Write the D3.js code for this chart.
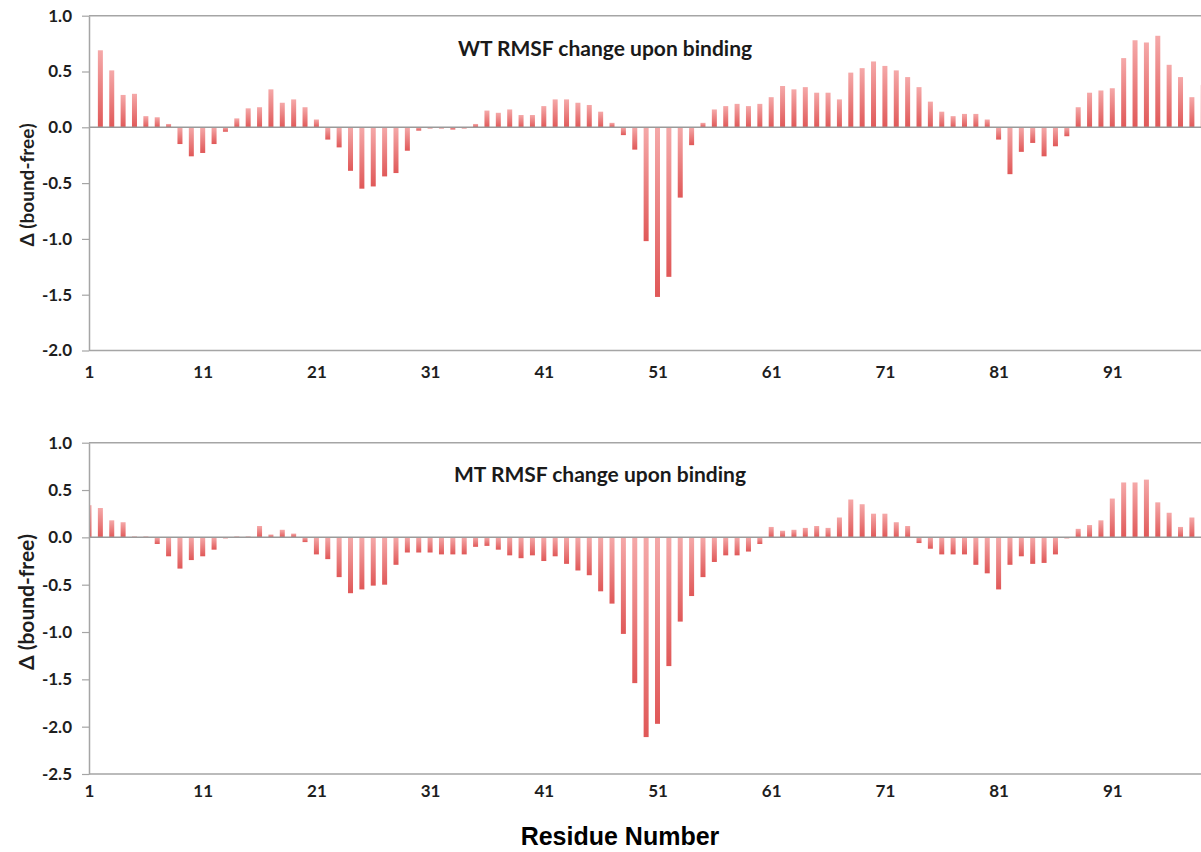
<!DOCTYPE html>
<html>
<head>
<meta charset="utf-8">
<script src="https://cdn.jsdelivr.net/npm/d3@7"></script>
<style>
  body { margin: 0; background: #fff; }
  svg { display: block; }
</style>
</head>
<body>
<script>
// residue numbers 1..99
var residues = d3.range(1, 100);

// WT: RMSF change (bound - free), residue 1 has no bar
var wtValues = [
  null, 0.69, 0.51, 0.29, 0.30, 0.10, 0.09, 0.03, -0.15, -0.26,
  -0.23, -0.15, -0.04, 0.08, 0.17, 0.18, 0.34, 0.22, 0.25, 0.18,
  0.07, -0.11, -0.18, -0.39, -0.55, -0.53, -0.44, -0.41, -0.21, -0.03,
  -0.01, -0.01, -0.02, -0.01, 0.03, 0.15, 0.13, 0.16, 0.11, 0.11,
  0.19, 0.25, 0.25, 0.22, 0.20, 0.14, 0.04, -0.07, -0.20, -1.02,
  -1.52, -1.34, -0.63, -0.16, 0.04, 0.16, 0.19, 0.21, 0.19, 0.21,
  0.27, 0.37, 0.34, 0.36, 0.31, 0.31, 0.25, 0.49, 0.53, 0.59,
  0.55, 0.51, 0.45, 0.36, 0.23, 0.14, 0.10, 0.12, 0.12, 0.07,
  -0.11, -0.42, -0.22, -0.14, -0.26, -0.17, -0.08, 0.18, 0.31, 0.33,
  0.35, 0.62, 0.78, 0.76, 0.82, 0.56, 0.45, 0.27, 0.38
];

// MT: RMSF change (bound - free), residue 99 is cut off in the picture
var mtValues = [
  0.34, 0.31, 0.18, 0.16, 0.01, 0.01, -0.07, -0.20, -0.33, -0.24,
  -0.20, -0.13, -0.01, 0.01, 0.01, 0.12, 0.03, 0.08, 0.04, -0.05,
  -0.18, -0.23, -0.42, -0.59, -0.55, -0.51, -0.50, -0.29, -0.16, -0.16,
  -0.16, -0.18, -0.18, -0.18, -0.10, -0.09, -0.13, -0.19, -0.22, -0.19,
  -0.25, -0.20, -0.28, -0.35, -0.40, -0.57, -0.70, -1.02, -1.54, -2.11,
  -1.97, -1.36, -0.89, -0.62, -0.42, -0.26, -0.19, -0.19, -0.15, -0.07,
  0.11, 0.07, 0.08, 0.10, 0.12, 0.10, 0.21, 0.40, 0.35, 0.25,
  0.25, 0.16, 0.12, -0.06, -0.12, -0.18, -0.18, -0.18, -0.29, -0.38,
  -0.55, -0.29, -0.20, -0.28, -0.27, -0.18, -0.01, 0.09, 0.13, 0.18,
  0.41, 0.58, 0.58, 0.61, 0.37, 0.26, 0.11, 0.21, null
];

var xTicks = [1, 11, 21, 31, 41, 51, 61, 71, 81, 91];
var wtYTicks = [1.0, 0.5, 0.0, -0.5, -1.0, -1.5, -2.0];
var mtYTicks = [1.0, 0.5, 0.0, -0.5, -1.0, -1.5, -2.0, -2.5];

var width = 1201, height = 852;
var left = 89, step = 11.37;
var axisColor = '#a5a5a5';
var font = 'Lato, "Open Sans", sans-serif';

var svg = d3.select('body').append('svg')
  .attr('width', width)
  .attr('height', height);

var defs = svg.append('defs');
var grad = defs.append('linearGradient')
  .attr('id', 'barGrad')
  .attr('x1', 0).attr('y1', 0).attr('x2', 0).attr('y2', 1);
grad.append('stop').attr('offset', '0%').attr('stop-color', '#f5a9a9');
grad.append('stop').attr('offset', '100%').attr('stop-color', '#e05858');

defs.append('clipPath').attr('id', 'plotClip')
  .append('rect')
  .attr('x', left + 0.8).attr('y', 0)
  .attr('width', width).attr('height', height);

// x position for residue i, shared by both panels
var x = d3.scaleLinear()
  .domain([1, 100])
  .range([left, left + 99 * step]);

var panels = [
  { values: wtValues, ticks: wtYTicks, top: 15.7, bottom: 350.5,
    title: 'WT RMSF change upon binding', titleX: 605, titleY: 56,
    labelY: 185, labelSize: 19, tickY: 378 },
  { values: mtValues, ticks: mtYTicks, top: 442.7, bottom: 774,
    title: 'MT RMSF change upon binding', titleX: 600, titleY: 482,
    labelY: 602, labelSize: 21, tickY: 797 }
];

panels.forEach(function(p) {
  var y = d3.scaleLinear()
    .domain([d3.min(p.ticks), d3.max(p.ticks)])
    .range([p.bottom, p.top]);

  var g = svg.append('g');

  // frame lines
  g.append('line')
    .attr('x1', left).attr('x2', width)
    .attr('y1', y(d3.max(p.ticks))).attr('y2', y(d3.max(p.ticks)))
    .attr('stroke', axisColor).attr('stroke-width', 1.5);
  g.append('line')
    .attr('x1', left).attr('x2', width)
    .attr('y1', y(d3.min(p.ticks))).attr('y2', y(d3.min(p.ticks)))
    .attr('stroke', axisColor).attr('stroke-width', 1.5);

  // bars
  var data = residues.map(function(r, i) { return { r: r, v: p.values[i] }; })
    .filter(function(d) { return d.v !== null; });

  g.append('g')
    .attr('clip-path', 'url(#plotClip)')
    .selectAll('rect')
    .data(data)
    .enter()
    .append('rect')
    .attr('x', function(d) { return x(d.r) - 2.5; })
    .attr('width', 5)
    .attr('y', function(d) { return y(Math.max(0, d.v)); })
    .attr('height', function(d) { return Math.abs(y(d.v) - y(0)); })
    .attr('fill', 'url(#barGrad)');

  // zero line
  g.append('line')
    .attr('x1', left).attr('x2', width)
    .attr('y1', y(0)).attr('y2', y(0))
    .attr('stroke', '#9a9a9a').attr('stroke-width', 1.5);

  // y axis
  var yAxis = d3.axisLeft(y)
    .tickValues(p.ticks)
    .tickFormat(function(d) { return d.toFixed(1); })
    .tickSize(7)
    .tickSizeOuter(0)
    .tickPadding(10);

  var ya = g.append('g')
    .attr('transform', 'translate(' + left + ',0)')
    .call(yAxis);
  ya.select('.domain').attr('stroke', axisColor).attr('stroke-width', 1.5);
  ya.selectAll('.tick line').attr('stroke', axisColor).attr('stroke-width', 1.2);
  ya.selectAll('.tick text')
    .attr('font-family', font)
    .attr('font-weight', 'bold')
    .attr('font-size', 17)
    .attr('fill', '#1e1e1e');

  // x labels
  var xAxis = d3.axisBottom(x)
    .tickValues(xTicks)
    .tickFormat(d3.format('d'))
    .tickSize(0);
  var xa = g.append('g')
    .attr('transform', 'translate(0,' + (p.tickY - 13) + ')')
    .call(xAxis);
  xa.select('.domain').remove();
  xa.selectAll('.tick text')
    .attr('dy', 0)
    .attr('y', 13)
    .attr('font-family', font)
    .attr('font-weight', 'bold')
    .attr('font-size', 17)
    .attr('fill', '#1e1e1e');

  // panel title
  g.append('text')
    .attr('x', p.titleX).attr('y', p.titleY)
    .attr('text-anchor', 'middle')
    .attr('font-family', font)
    .attr('font-weight', 'bold')
    .attr('font-size', 21)
    .attr('fill', '#1a1a1a')
    .text(p.title);

  // y axis title
  g.append('text')
    .attr('transform', 'translate(34,' + p.labelY + ') rotate(-90)')
    .attr('text-anchor', 'middle')
    .attr('font-family', font)
    .attr('font-weight', 'bold')
    .attr('font-size', p.labelSize)
    .attr('fill', '#1e1e1e')
    .text('\u0394 (bound-free)');
});

svg.append('text')
  .attr('x', 620).attr('y', 845)
  .attr('text-anchor', 'middle')
  .attr('font-family', '"Liberation Sans", Arial, sans-serif')
  .attr('font-weight', 'bold')
  .attr('font-size', 25)
  .attr('fill', '#000')
  .text('Residue Number');
</script>
</body>
</html>
